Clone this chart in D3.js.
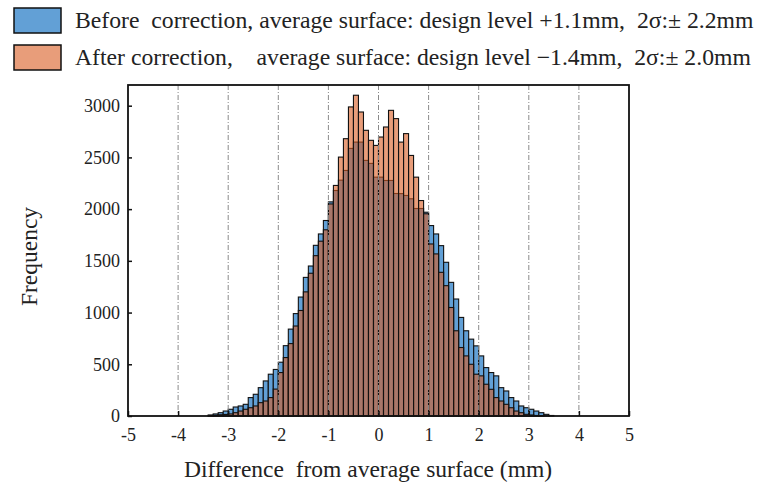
<!DOCTYPE html>
<html>
<head>
<meta charset="utf-8">
<script src="https://cdn.jsdelivr.net/npm/d3@7"></script>
<style>
  body { margin: 0; background: #fff; }
  svg text { font-family: "Liberation Serif", "Times New Roman", serif; fill: #222; }
</style>
</head>
<body>
<svg id="chart" width="761" height="489"></svg>
<script>
// left edge of each 0.1 mm bin
const binLeft = [-3.4, -3.3, -3.2, -3.1, -3.0, -2.9, -2.8, -2.7, -2.6, -2.5, -2.4, -2.3, -2.2, -2.1,
  -2.0, -1.9, -1.8, -1.7, -1.6, -1.5, -1.4, -1.3, -1.2, -1.1,
  -1.0, -0.9, -0.8, -0.7, -0.6, -0.5, -0.4, -0.3, -0.2, -0.1,
  0.0, 0.1, 0.2, 0.3, 0.4, 0.5, 0.6, 0.7, 0.8, 0.9,
  1.0, 1.1, 1.2, 1.3, 1.4, 1.5, 1.6, 1.7, 1.8, 1.9,
  2.0, 2.1, 2.2, 2.3, 2.4, 2.5, 2.6, 2.7, 2.8, 2.9,
  3.0, 3.1, 3.2, 3.3, 3.4];
const binWidth = 0.1;

const before = [10, 20, 32, 48, 65, 87, 97, 113, 178, 210, 274, 339, 404, 450,
  520, 680, 840, 990, 1150, 1340, 1450, 1650, 1760, 1890,
  2070, 2180, 2280, 2374, 2587, 2648, 2648, 2471, 2442, 2309,
  2309, 2277, 2277, 2151, 2150, 2132, 2100, 2006, 2006, 1970,
  1841, 1760, 1647, 1486, 1292, 1131, 953, 824, 743, 678,
  581, 468, 420, 388, 274, 242, 178, 145, 97, 80,
  65, 48, 32, 16, 5];

const after = [5, 8, 12, 15, 20, 32, 48, 65, 80, 97, 129, 145, 178, 260,
  420, 565, 700, 870, 1020, 1200, 1380, 1550, 1690, 1800,
  2050, 2229, 2503, 2681, 2988, 3101, 2939, 2762, 2665, 2616,
  2697, 2794, 2955, 2875, 2648, 2730, 2519, 2309, 2083, 1955,
  1663, 1567, 1389, 1260, 1049, 824, 662, 581, 500, 404,
  388, 307, 258, 178, 145, 113, 80, 48, 32, 16,
  10, 5, 3, 0, 0];

const xTicks = [-5, -4, -3, -2, -1, 0, 1, 2, 3, 4, 5];
const gridX = [-4, -3, -2, -1, 0, 1, 2, 3, 4];
const yTicks = [0, 500, 1000, 1500, 2000, 2500, 3000];

const legendLabels = [
  "Before  correction, average surface: design level +1.1mm,  2σ:± 2.2mm",
  "After correction,    average surface: design level −1.4mm,  2σ:± 2.0mm"
];

const svg = d3.select('#chart');
const pLeft = 128, pRight = 629, pTop = 85, pBottom = 416;

const x = d3.scaleLinear().domain([-5, 5]).range([pLeft, pRight]);
const y = d3.scaleLinear().domain([0, 3200]).range([pBottom, pTop]);

const blueFill = '#62a0d6';
const orangeFill = 'rgba(216, 92, 34, 0.6)';

// bars, blue first and the orange ones over them
function drawBars(values, fill, cls) {
  svg.append('g').selectAll('rect.' + cls)
    .data(binLeft.map((b, i) => ({ b: b, v: values[i] })).filter(d => d.v > 0))
    .join('rect')
    .attr('class', cls)
    .attr('x', d => x(d.b))
    .attr('width', d => x(d.b + binWidth) - x(d.b))
    .attr('y', d => y(d.v))
    .attr('height', d => y(0) - y(d.v))
    .attr('fill', fill)
    .attr('stroke', '#111')
    .attr('stroke-width', 1.1);
}
drawBars(before, blueFill, 'before');
drawBars(after, orangeFill, 'after');

// dash-dot grid
svg.append('g').selectAll('line')
  .data(gridX)
  .join('line')
  .attr('x1', d => x(d)).attr('x2', d => x(d))
  .attr('y1', pTop).attr('y2', pBottom)
  .attr('stroke', '#8a8a8a')
  .attr('stroke-width', 1)
  .attr('stroke-dasharray', '5,2,1,2');

// axes with inner ticks
const xAxis = d3.axisBottom(x).tickValues(xTicks).tickSize(-5).tickPadding(12)
  .tickFormat(d => d);
const gx = svg.append('g').attr('transform', `translate(0,${pBottom})`).call(xAxis);
const yAxis = d3.axisLeft(y).tickValues(yTicks).tickSize(-4).tickPadding(8)
  .tickFormat(d3.format('d'));
const gy = svg.append('g').attr('transform', `translate(${pLeft},0)`).call(yAxis);
[gx, gy].forEach(g => {
  g.select('.domain').remove();
  g.selectAll('line').attr('stroke', '#111').attr('stroke-width', 1.5);
  g.selectAll('text').style('font-size', '18px').attr('fill', '#222');
});

// frame
svg.append('rect')
  .attr('x', pLeft).attr('y', pTop)
  .attr('width', pRight - pLeft).attr('height', pBottom - pTop)
  .attr('fill', 'none').attr('stroke', '#111').attr('stroke-width', 1.8);

// axis titles
svg.append('text')
  .attr('x', 368).attr('y', 477)
  .attr('text-anchor', 'middle')
  .style('font-size', '23.5px')
  .style('white-space', 'pre')
  .text('Difference  from average surface (mm)');

svg.append('text')
  .attr('transform', `translate(37,${(pTop + pBottom) / 2 + 6}) rotate(-90)`)
  .attr('text-anchor', 'middle')
  .style('font-size', '23.5px')
  .text('Frequency');

// legend
const legend = svg.append('g');
const swatches = [blueFill, orangeFill];
legendLabels.forEach((lab, i) => {
  const yy = 8 + i * 37;
  legend.append('rect')
    .attr('x', 14).attr('y', yy).attr('width', 47).attr('height', 25)
    .attr('fill', swatches[i]).attr('stroke', '#111').attr('stroke-width', 1.5);
  legend.append('text')
    .attr('x', 75).attr('y', yy + 20)
    .style('font-size', '23.7px')
    .style('white-space', 'pre')
    .text(lab);
});
</script>
</body>
</html>
